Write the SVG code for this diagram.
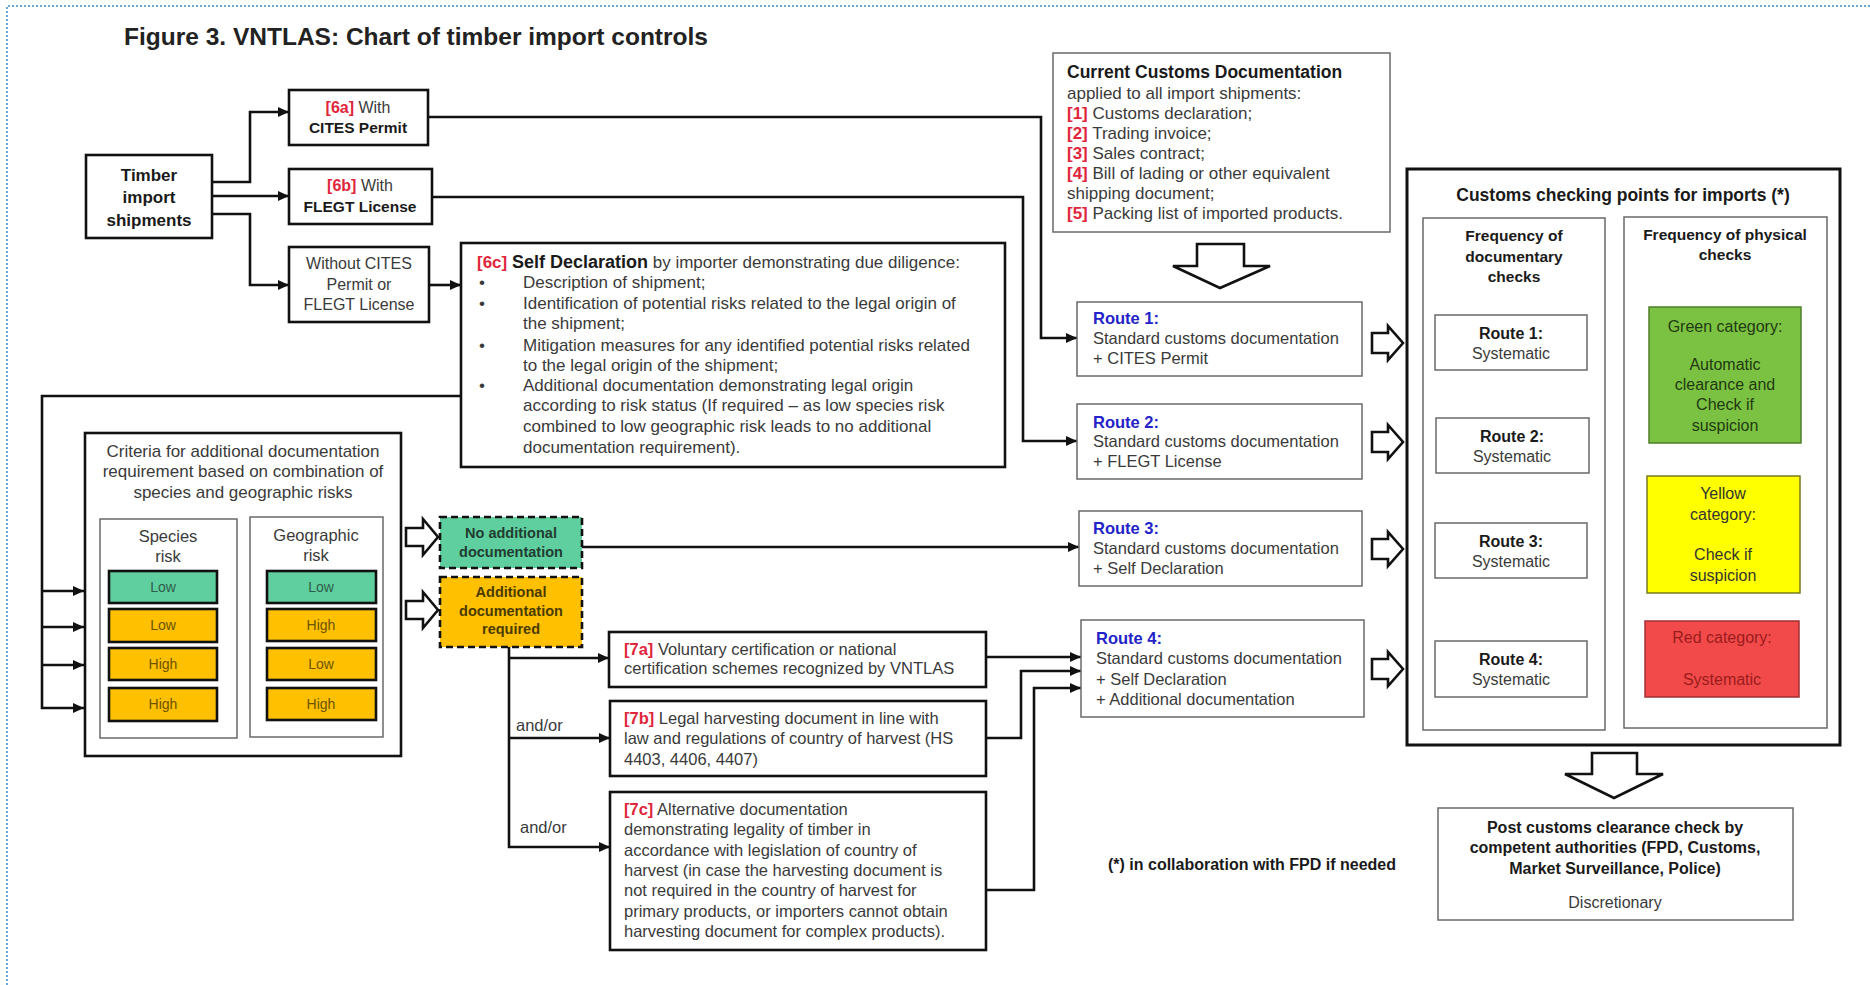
<svg xmlns="http://www.w3.org/2000/svg" width="1870" height="985" viewBox="0 0 1870 985">
<style>
text{font-family:"Liberation Sans",Arial,sans-serif;fill:#3a3a3a;font-size:17px}
.b{font-weight:bold;fill:#1a1a1a}
.c{text-anchor:middle}
.red{fill:#e0263c;font-weight:bold}
.blue{fill:#2323c8;font-weight:bold}
.thick{fill:#fff;stroke:#111;stroke-width:2.6}
.thin{fill:#fff;stroke:#6a6a6a;stroke-width:1.5}
.conn{fill:none;stroke:#111;stroke-width:2.6;marker-end:url(#ah)}
.line{fill:none;stroke:#111;stroke-width:2.6}
.blk{fill:#fff;stroke:#111;stroke-width:2.6;stroke-linejoin:miter}
.cell{stroke:#111;stroke-width:2.6}
.g{fill:#5fcf9f}
.o{fill:#ffc000}
.dash{stroke:#111;stroke-width:2.6;stroke-dasharray:7,4}
.s16{font-size:16.5px}
.s14{font-size:14px}
</style>
<defs>
<marker id="ah" markerUnits="userSpaceOnUse" markerWidth="11" markerHeight="10" refX="11" refY="5" orient="auto">
<path d="M0,0 L11,5 L0,10 z" fill="#111"/>
</marker>
</defs>
<rect width="1870" height="985" fill="#fff"/>
<path d="M7,985 V6 H1870" fill="none" stroke="#3a8fd0" stroke-width="1.5" stroke-dasharray="2,2"/>
<text x="124" y="45" class="b" style="font-size:24.5px;fill:#222">Figure 3. VNTLAS: Chart of timber import controls</text>

<g id="connectors">
<path class="conn" d="M212,182 H250 V112 H289"/>
<path class="conn" d="M212,196 H289"/>
<path class="conn" d="M212,214 H250 V285 H289"/>
<path class="conn" d="M429,285 H461"/>
<path class="conn" d="M428,117 H1041 V338 H1077"/>
<path class="conn" d="M432,197 H1023 V441 H1077"/>
<path class="conn" d="M461,396 H42 V708 H84"/>
<path class="conn" d="M42,591 H84"/>
<path class="conn" d="M42,627 H84"/>
<path class="conn" d="M42,665 H84"/>
<path class="conn" d="M582,547 H1079"/>
<path class="conn" d="M509,647 V847 H610"/>
<path class="conn" d="M509,658 H609"/>
<path class="conn" d="M509,738 H610"/>
<path class="conn" d="M986,657 H1081"/>
<path class="conn" d="M986,738 H1021 V671 H1081"/>
<path class="conn" d="M986,890 H1034 V688 H1081"/>
<polygon class="blk" points="406,528 423,528 423,519 438,537 423,555 423,546 406,546"/>
<polygon class="blk" points="406,601 423,601 423,592 438,610 423,628 423,619 406,619"/>
<polygon class="blk" points="1372,333 1388,333 1388,326 1403,343 1388,360 1388,353 1372,353"/>
<polygon class="blk" points="1372,432 1388,432 1388,425 1403,442 1388,459 1388,452 1372,452"/>
<polygon class="blk" points="1372,539 1388,539 1388,532 1403,549 1388,566 1388,559 1372,559"/>
<polygon class="blk" points="1372,659 1388,659 1388,652 1403,669 1388,686 1388,679 1372,679"/>
<polygon class="blk" points="1197,244 1244,244 1244,266 1270,266 1220,288 1173,266 1197,266"/>
<polygon class="blk" points="1592,753 1637,753 1637,774 1663,774 1614,798 1565,774 1592,774"/>
</g>

<g id="timber">
<rect class="thick" x="86" y="155" width="126" height="83"/>
<text class="b c" x="149" y="181" style="font-size:17px">Timber</text>
<text class="b c" x="149" y="203" style="font-size:17px">import</text>
<text class="b c" x="149" y="226" style="font-size:17px">shipments</text>
</g>

<g id="n6a">
<rect class="thick" x="289" y="90" width="139" height="55"/>
<text class="c" x="358" y="113" style="font-size:16px"><tspan class="red">[6a]</tspan> With</text>
<text class="b c" x="358" y="133" style="font-size:15.5px">CITES Permit</text>
</g>

<g id="n6b">
<rect class="thick" x="289" y="169" width="143" height="55"/>
<text class="c" x="360" y="191" style="font-size:16px"><tspan class="red">[6b]</tspan> With</text>
<text class="b c" x="360" y="212" style="font-size:15.5px">FLEGT License</text>
</g>

<g id="without">
<rect class="thick" x="289" y="247" width="140" height="75"/>
<text class="c" x="359" y="269" style="font-size:16px">Without CITES</text>
<text class="c" x="359" y="290" style="font-size:16px">Permit or</text>
<text class="c" x="359" y="310" style="font-size:16px">FLEGT License</text>
</g>

<g id="n6c">
<rect class="thick" x="461" y="243" width="544" height="224"/>
<text x="477" y="268"><tspan class="red">[6c]</tspan> <tspan class="b" style="font-size:18px">Self Declaration</tspan> by importer demonstrating due diligence:</text>
<text x="479" y="288">•</text>
<text x="523" y="288">Description of shipment;</text>
<text x="479" y="309">•</text>
<text x="523" y="309">Identification of potential risks related to the legal origin of</text>
<text x="523" y="329">the shipment;</text>
<text x="479" y="351">•</text>
<text x="523" y="351">Mitigation measures for any identified potential risks related</text>
<text x="523" y="371">to the legal origin of the shipment;</text>
<text x="479" y="391">•</text>
<text x="523" y="391">Additional documentation demonstrating legal origin</text>
<text x="523" y="411">according to risk status (If required – as low species risk</text>
<text x="523" y="432">combined to low geographic risk leads to no additional</text>
<text x="523" y="453">documentation requirement).</text>
</g>

<g id="customs-doc">
<rect class="thin" x="1053" y="53" width="337" height="179"/>
<text class="b" x="1067" y="78" style="font-size:17.5px">Current Customs Documentation</text>
<text x="1067" y="99">applied to all import shipments:</text>
<text x="1067" y="119"><tspan class="red">[1]</tspan> Customs declaration;</text>
<text x="1067" y="139"><tspan class="red">[2]</tspan> Trading invoice;</text>
<text x="1067" y="159"><tspan class="red">[3]</tspan> Sales contract;</text>
<text x="1067" y="179"><tspan class="red">[4]</tspan> Bill of lading or other equivalent</text>
<text x="1067" y="199">shipping document;</text>
<text x="1067" y="219"><tspan class="red">[5]</tspan> Packing list of imported products.</text>
</g>

<g id="route1">
<rect class="thin" x="1077" y="302" width="285" height="74"/>
<text class="blue s16" x="1093" y="324">Route 1:</text>
<text class="s16" x="1093" y="344">Standard customs documentation</text>
<text class="s16" x="1093" y="364">+ CITES Permit</text>
</g>
<g id="route2">
<rect class="thin" x="1077" y="404" width="285" height="75"/>
<text class="blue s16" x="1093" y="428">Route 2:</text>
<text class="s16" x="1093" y="447">Standard customs documentation</text>
<text class="s16" x="1093" y="467">+ FLEGT License</text>
</g>
<g id="route3">
<rect class="thin" x="1079" y="511" width="283" height="75"/>
<text class="blue s16" x="1093" y="534">Route 3:</text>
<text class="s16" x="1093" y="554">Standard customs documentation</text>
<text class="s16" x="1093" y="574">+ Self Declaration</text>
</g>
<g id="route4">
<rect class="thin" x="1081" y="620" width="283" height="97"/>
<text class="blue s16" x="1096" y="644">Route 4:</text>
<text class="s16" x="1096" y="664">Standard customs documentation</text>
<text class="s16" x="1096" y="685">+ Self Declaration</text>
<text class="s16" x="1096" y="705">+ Additional documentation</text>
</g>

<g id="checkpoints">
<rect x="1407" y="169" width="433" height="576" fill="#fff" stroke="#111" stroke-width="3"/>
<text class="b c" x="1623" y="201" style="font-size:17.5px">Customs checking points for imports (*)</text>
<rect class="thin" x="1423" y="218" width="182" height="512"/>
<rect class="thin" x="1624" y="217" width="203" height="511"/>
<text class="b c" x="1514" y="241" style="font-size:15.5px">Frequency of</text>
<text class="b c" x="1514" y="262" style="font-size:15.5px">documentary</text>
<text class="b c" x="1514" y="282" style="font-size:15.5px">checks</text>
<text class="b c" x="1725" y="240" style="font-size:15.5px">Frequency of physical</text>
<text class="b c" x="1725" y="260" style="font-size:15.5px">checks</text>
</g>
<g id="doc-r1">
<rect class="thin" x="1435" y="315" width="152" height="55"/>
<text class="b c" x="1511" y="339" style="font-size:16px">Route 1:</text>
<text class="c" x="1511" y="359" style="font-size:16px">Systematic</text>
</g>
<g id="doc-r2">
<rect class="thin" x="1436" y="418" width="153" height="55"/>
<text class="b c" x="1512" y="442" style="font-size:16px">Route 2:</text>
<text class="c" x="1512" y="462" style="font-size:16px">Systematic</text>
</g>
<g id="doc-r3">
<rect class="thin" x="1435" y="523" width="152" height="55"/>
<text class="b c" x="1511" y="547" style="font-size:16px">Route 3:</text>
<text class="c" x="1511" y="567" style="font-size:16px">Systematic</text>
</g>
<g id="doc-r4">
<rect class="thin" x="1435" y="641" width="152" height="56"/>
<text class="b c" x="1511" y="665" style="font-size:16px">Route 4:</text>
<text class="c" x="1511" y="685" style="font-size:16px">Systematic</text>
</g>
<g id="green">
<rect x="1649" y="307" width="152" height="136" fill="#7cc242" stroke="#4f7f2a" stroke-width="1.5"/>
<text class="c" x="1725" y="332" style="font-size:16px;fill:#1f3a10">Green category:</text>
<text class="c" x="1725" y="370" style="font-size:16px;fill:#1f3a10">Automatic</text>
<text class="c" x="1725" y="390" style="font-size:16px;fill:#1f3a10">clearance and</text>
<text class="c" x="1725" y="410" style="font-size:16px;fill:#1f3a10">Check if</text>
<text class="c" x="1725" y="431" style="font-size:16px;fill:#1f3a10">suspicion</text>
</g>
<g id="yellow">
<rect x="1647" y="476" width="153" height="117" fill="#ffff00" stroke="#7a7a20" stroke-width="1.5"/>
<text class="c" x="1723" y="499" style="font-size:16px;fill:#333">Yellow</text>
<text class="c" x="1723" y="520" style="font-size:16px;fill:#333">category:</text>
<text class="c" x="1723" y="560" style="font-size:16px;fill:#333">Check if</text>
<text class="c" x="1723" y="581" style="font-size:16px;fill:#333">suspicion</text>
</g>
<g id="red">
<rect x="1645" y="621" width="154" height="76" fill="#f24a4a" stroke="#a03030" stroke-width="1.5"/>
<text class="c" x="1722" y="643" style="font-size:16px;fill:#9b1c1c">Red category:</text>
<text class="c" x="1722" y="685" style="font-size:16px;fill:#9b1c1c">Systematic</text>
</g>

<g id="post">
<rect class="thin" x="1438" y="808" width="355" height="112"/>
<text class="b c" x="1615" y="833" style="font-size:16px">Post customs clearance check by</text>
<text class="b c" x="1615" y="853" style="font-size:16px">competent authorities (FPD, Customs,</text>
<text class="b c" x="1615" y="874" style="font-size:16px">Market Surveillance, Police)</text>
<text class="c" x="1615" y="908" style="font-size:16px">Discretionary</text>
</g>
<g id="footnote">
<text class="b c" x="1252" y="870" style="font-size:16px">(*) in collaboration with FPD if needed</text>
</g>

<g id="criteria">
<rect class="thick" x="85" y="433" width="316" height="323"/>
<text class="c" x="243" y="457">Criteria for additional documentation</text>
<text class="c" x="243" y="477">requirement based on combination of</text>
<text class="c" x="243" y="498">species and geographic risks</text>
<rect class="thin" x="100" y="519" width="137" height="219"/>
<rect class="thin" x="250" y="517" width="133" height="220"/>
<text class="c" x="168" y="542" style="font-size:16.5px">Species</text>
<text class="c" x="168" y="562" style="font-size:16.5px">risk</text>
<text class="c" x="316" y="541" style="font-size:16.5px">Geographic</text>
<text class="c" x="316" y="561" style="font-size:16.5px">risk</text>
<rect class="cell g" x="109" y="571" width="108" height="32"/>
<rect class="cell o" x="109" y="609" width="108" height="33"/>
<rect class="cell o" x="109" y="648" width="108" height="32"/>
<rect class="cell o" x="109" y="688" width="108" height="33"/>
<rect class="cell g" x="267" y="571" width="109" height="32"/>
<rect class="cell o" x="267" y="609" width="109" height="32"/>
<rect class="cell o" x="267" y="648" width="109" height="32"/>
<rect class="cell o" x="267" y="688" width="109" height="32"/>
<text class="c s14" x="163" y="592" style="fill:#2e5e4a">Low</text>
<text class="c s14" x="163" y="630" style="fill:#6b5300">Low</text>
<text class="c s14" x="163" y="669" style="fill:#6b5300">High</text>
<text class="c s14" x="163" y="709" style="fill:#6b5300">High</text>
<text class="c s14" x="321" y="592" style="fill:#2e5e4a">Low</text>
<text class="c s14" x="321" y="630" style="fill:#6b5300">High</text>
<text class="c s14" x="321" y="669" style="fill:#6b5300">Low</text>
<text class="c s14" x="321" y="709" style="fill:#6b5300">High</text>
</g>

<g id="noadd">
<rect class="dash g" x="440" y="517" width="142" height="51"/>
<text class="b c" x="511" y="538" style="font-size:14.5px;fill:#1f3d30">No additional</text>
<text class="b c" x="511" y="557" style="font-size:14.5px;fill:#1f3d30">documentation</text>
</g>
<g id="add">
<rect class="dash o" x="440" y="577" width="142" height="70"/>
<text class="b c" x="511" y="597" style="font-size:14.5px;fill:#4a3b00">Additional</text>
<text class="b c" x="511" y="616" style="font-size:14.5px;fill:#4a3b00">documentation</text>
<text class="b c" x="511" y="634" style="font-size:14.5px;fill:#4a3b00">required</text>
</g>

<g id="labels">
<text class="s16" x="516" y="731">and/or</text>
<text class="s16" x="520" y="833">and/or</text>
</g>

<g id="n7a">
<rect class="thick" x="609" y="632" width="377" height="55"/>
<text class="s16" x="624" y="655"><tspan class="red">[7a]</tspan> Voluntary certification or national</text>
<text class="s16" x="624" y="674">certification schemes recognized by VNTLAS</text>
</g>
<g id="n7b">
<rect class="thick" x="610" y="701" width="376" height="75"/>
<text class="s16" x="624" y="724"><tspan class="red">[7b]</tspan> Legal harvesting document in line with</text>
<text class="s16" x="624" y="744">law and regulations of country of harvest (HS</text>
<text class="s16" x="624" y="765">4403, 4406, 4407)</text>
</g>
<g id="n7c">
<rect class="thick" x="610" y="792" width="376" height="158"/>
<text class="s16" x="624" y="815"><tspan class="red">[7c]</tspan> Alternative documentation</text>
<text class="s16" x="624" y="835">demonstrating legality of timber in</text>
<text class="s16" x="624" y="856">accordance with legislation of country of</text>
<text class="s16" x="624" y="876">harvest (in case the harvesting document is</text>
<text class="s16" x="624" y="896">not required in the country of harvest for</text>
<text class="s16" x="624" y="917">primary products, or importers cannot obtain</text>
<text class="s16" x="624" y="937">harvesting document for complex products).</text>
</g>
</svg>
